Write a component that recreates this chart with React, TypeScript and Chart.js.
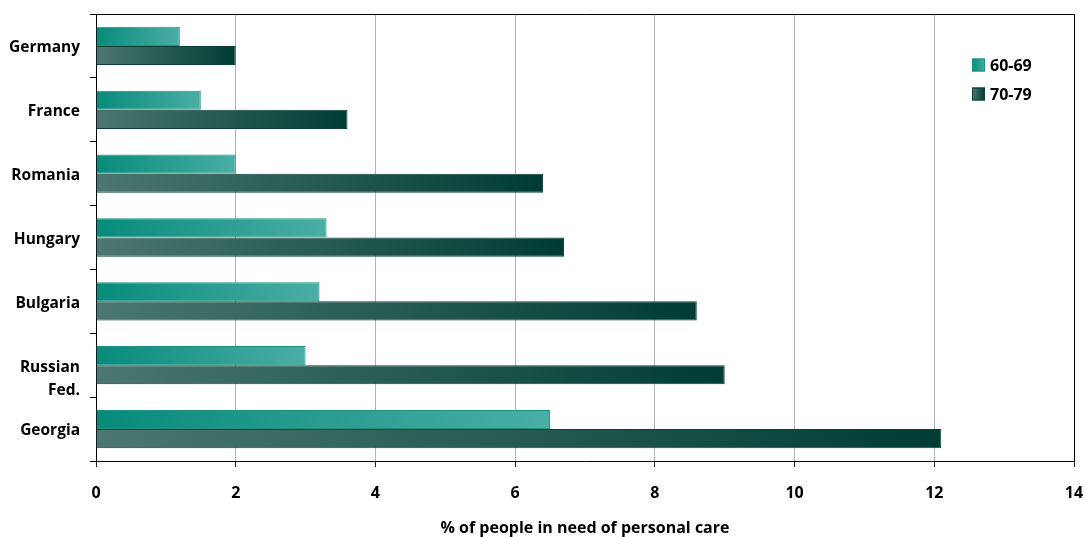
import { useEffect, useRef } from "react";
import { Chart, registerables } from "chart.js";

Chart.register(...registerables);

// Country labels, top to bottom ("Russian Fed." wraps onto a second line)
const countries: (string | string[])[] = [
  "Germany",
  "France",
  "Romania",
  "Hungary",
  "Bulgaria",
  ["", "Russian", "Fed."],
  "Georgia",
];

const seriesNames = ["60-69", "70-79"];

// % of people in need of personal care
const age60to69 = [1.2, 1.5, 2.0, 3.3, 3.2, 3.0, 6.5];
const age70to79 = [2.0, 3.6, 6.4, 6.7, 8.6, 9.0, 12.1];

const xMin = 0;
const xMax = 14;
const xStep = 2;

const axisTitle = "% of people in need of personal care";

const FONT = "'Open Sans', 'Liberation Sans', sans-serif";

const teal = { from: "#078b7b", to: "#4aaea4", border: "#1a9383" };
const slate = { from: "#4b7770", to: "#003c34", border: "#0c3f38" };

function barGradient(from: string, to: string) {
  return (ctx: any) => {
    if (ctx.type !== "data") return from;
    const chart = ctx.chart;
    const x = chart.scales?.x;
    if (!x) return from;
    const x0 = x.getPixelForValue(0);
    const x1 = x.getPixelForValue(ctx.raw as number);
    if (!isFinite(x0) || !isFinite(x1) || x1 === x0) return from;
    const g = chart.ctx.createLinearGradient(x0, 0, x1, 0);
    g.addColorStop(0, from);
    g.addColorStop(1, to);
    return g;
  };
}

// Black frame on the top and right edges of the plot area
const frameLines = {
  id: "frameLines",
  afterDraw(chart: any) {
    const { ctx, chartArea } = chart;
    ctx.save();
    ctx.strokeStyle = "#000";
    ctx.lineWidth = 1;
    ctx.beginPath();
    ctx.moveTo(chartArea.left, Math.round(chartArea.top) + 0.5);
    ctx.lineTo(Math.round(chartArea.right) + 0.5, Math.round(chartArea.top) + 0.5);
    ctx.lineTo(Math.round(chartArea.right) + 0.5, chartArea.bottom);
    ctx.stroke();
    ctx.restore();
  },
};

// Legend drawn inside the plot, near the upper right corner
const insideLegend = {
  id: "insideLegend",
  afterDraw(chart: any) {
    const { ctx, chartArea } = chart;
    const palettes = [teal, slate];
    const size = 13;
    const left = chartArea.right - 102;
    const firstY = chartArea.top + 51;
    const gap = 29;
    ctx.save();
    ctx.font = `bold 16px ${FONT}`;
    ctx.textBaseline = "middle";
    ctx.textAlign = "left";
    seriesNames.forEach((name, i) => {
      const cy = firstY + i * gap;
      const p = palettes[i];
      const g = ctx.createLinearGradient(left, 0, left + size, 0);
      g.addColorStop(0, p.from);
      g.addColorStop(1, p.to);
      ctx.fillStyle = g;
      ctx.fillRect(left, cy - size / 2, size, size);
      ctx.strokeStyle = p.border;
      ctx.lineWidth = 1;
      ctx.strokeRect(left + 0.5, cy - size / 2 + 0.5, size - 1, size - 1);
      ctx.fillStyle = "#000";
      ctx.fillText(name, left + size + 5, cy + 1);
    });
    ctx.restore();
  },
};

export default function App() {
  const canvasRef = useRef<HTMLCanvasElement | null>(null);

  useEffect(() => {
    const canvas = canvasRef.current;
    if (!canvas) return;
    const chart = new Chart(canvas, {
      type: "bar",
      data: {
        labels: countries,
        datasets: [
          {
            label: seriesNames[0],
            data: age60to69,
            backgroundColor: barGradient(teal.from, teal.to),
            borderColor: teal.border,
            borderWidth: 1,
            barPercentage: 1,
            categoryPercentage: 0.6,
          },
          {
            label: seriesNames[1],
            data: age70to79,
            backgroundColor: barGradient(slate.from, slate.to),
            borderColor: slate.border,
            borderWidth: 1,
            barPercentage: 1,
            categoryPercentage: 0.6,
          },
        ],
      },
      options: {
        indexAxis: "y",
        animation: false,
        responsive: true,
        maintainAspectRatio: false,
        layout: { padding: { top: 14, right: 11, left: 0, bottom: 0 } },
        plugins: {
          legend: { display: false },
          tooltip: { enabled: false },
        },
        scales: {
          x: {
            min: xMin,
            max: xMax,
            afterFit: (s: any) => {
              s.height = 76;
              s.paddingLeft = 0;
              s.paddingRight = 0;
            },
            ticks: {
              stepSize: xStep,
              color: "#000",
              font: { family: FONT, size: 16, weight: "bold" },
              padding: 17,
            },
            grid: {
              color: "#b4b4b4",
              tickColor: "#222",
              tickLength: 6,
              lineWidth: 1,
            },
            border: { color: "#000", width: 1 },
            title: {
              display: true,
              text: axisTitle,
              color: "#000",
              font: { family: FONT, size: 16, weight: "bold" },
              padding: { top: 0, bottom: -1 },
            },
          },
          y: {
            afterFit: (s: any) => {
              s.width = 96;
              s.paddingTop = 0;
              s.paddingBottom = 0;
            },
            ticks: {
              autoSkip: false,
              labelOffset: 2,
              color: "#000",
              font: { family: FONT, size: 15.5, weight: "bold", lineHeight: 1.48 },
              padding: 10,
            },
            grid: {
              drawOnChartArea: false,
              offset: true,
              tickColor: "#000",
              tickLength: 6,
            },
            border: { color: "#000", width: 1 },
          },
        },
      },
      plugins: [frameLines, insideLegend],
    } as any);
    return () => chart.destroy();
  }, []);

  return (
    <div
      style={{
        position: "fixed",
        left: 0,
        top: 0,
        width: 1085,
        height: 537,
        background: "#fff",
      }}
    >
      <canvas ref={canvasRef} />
    </div>
  );
}
